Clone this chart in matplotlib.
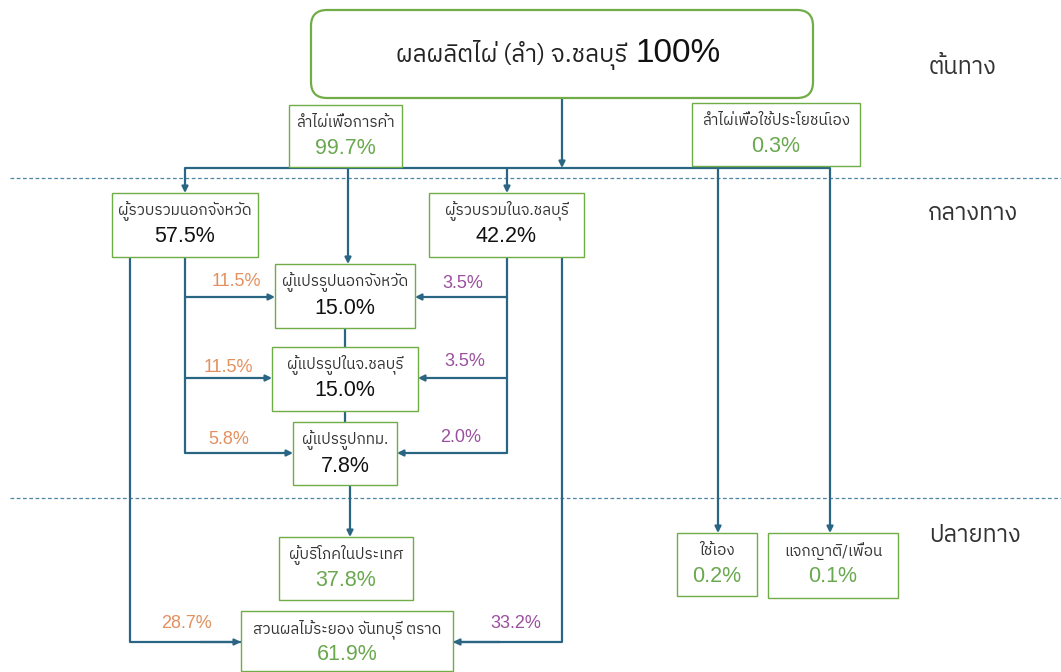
import matplotlib
matplotlib.use('Agg')
import matplotlib.pyplot as plt
from matplotlib import font_manager
from matplotlib.ft2font import FT2Font
from matplotlib.patches import FancyBboxPatch, Rectangle

# ---- data ----
node_names = ['ผลผลิตไผ่ (ลำ) จ.ชลบุรี', 'ลำไผ่เพื่อการค้า', 'ลำไผ่เพื่อใช้ประโยชน์เอง',
              'ผู้รวบรวมนอกจังหวัด', 'ผู้รวบรวมในจ.ชลบุรี',
              'ผู้แปรรูปนอกจังหวัด', 'ผู้แปรรูปในจ.ชลบุรี', 'ผู้แปรรูปกทม.',
              'ผู้บริโภคในประเทศ', 'สวนผลไม้ระยอง จันทบุรี ตราด', 'ใช้เอง', 'แจกญาติ/เพื่อน']
node_pct = [100, 99.7, 0.3, 57.5, 42.2, 15.0, 15.0, 7.8, 37.8, 61.9, 0.2, 0.1]
stage_names = ['ต้นทาง', 'กลางทาง', 'ปลายทาง']
out_prov_flows = [11.5, 11.5, 5.8, 28.7]   # from ผู้รวบรวมนอกจังหวัด
in_prov_flows = [3.5, 3.5, 2.0, 33.2]      # from ผู้รวบรวมในจ.ชลบุรี

# ---- layout (pixels, origin top-left) ----
boxes = [(311, 10, 813, 98), (289, 105, 402, 167), (692, 103, 860, 166),
         (112, 193, 258, 257), (429, 193, 584, 257),
         (275, 264, 415, 328), (272, 347, 418, 411), (293, 422, 397, 485),
         (279, 537, 413, 600), (241, 611, 453, 671), (677, 533, 757, 596), (768, 533, 898, 598)]
pct_green = [False, True, True, False, False, False, False, False, True, True, True, True]
stage_pos = [(963, 68), (973, 214), (975, 536)]

GREEN = '#70ad47'
PCT_GREEN = '#6aa84f'
LINE = '#2a6584'
ORANGE = '#e3905e'
PURPLE = '#9b4f9e'


def has_thai(path):
    try:
        return FT2Font(path).get_char_index(ord('ก')) != 0
    except Exception:
        return False

thai = sorted({f.name for f in font_manager.fontManager.ttflist if has_thai(f.fname)},
              key=lambda n: ('Thai' not in n, n))
TH = thai[:1] + ['DejaVu Sans']
NUM = ['Liberation Sans', 'DejaVu Sans']

fig = plt.figure(figsize=(10.61, 6.72), dpi=100)
ax = fig.add_axes([0, 0, 1, 1])
ax.set_xlim(0, 1061)
ax.set_ylim(672, 0)
ax.axis('off')


def line(xs, ys):
    ax.plot(xs, ys, color=LINE, lw=1.6, solid_capstyle='butt', zorder=1)


def arrow(x0, y0, x1, y1):
    ax.annotate('', xy=(x1, y1), xytext=(x0, y0),
                arrowprops=dict(arrowstyle='-|>', color=LINE, lw=1.6,
                                mutation_scale=9, shrinkA=0, shrinkB=0), zorder=1)


# dashed stage separators
for y in [178, 498]:
    ax.plot([10, 1061], [y, y], color='#4f86a6', lw=0.9, dashes=(3, 2), zorder=0)

# boxes
for i, (x0, y0, x1, y1) in enumerate(boxes):
    if i == 0:
        ax.add_patch(FancyBboxPatch((x0, y0), x1 - x0, y1 - y0,
                                    boxstyle='round,pad=0,rounding_size=16',
                                    fc='white', ec=GREEN, lw=1.6, zorder=2))
        ax.text(627, 62, node_names[0], ha='right', va='baseline', fontsize=17.5,
                family=TH, color='#222222', zorder=3)
        ax.text(635, 62, '%d%%' % node_pct[0], ha='left', va='baseline', fontsize=24,
                family=NUM, color='#111111', zorder=3)
        continue
    ax.add_patch(Rectangle((x0, y0), x1 - x0, y1 - y0, fc='white', ec=GREEN,
                           lw=1.0, zorder=2))
    cx = (x0 + x1) / 2
    ax.text(cx, y0 + 18, node_names[i], ha='center', va='center', fontsize=11,
            family=TH, color='#333333', zorder=3)
    ax.text(cx, y0 + 44, '%.1f%%' % node_pct[i], ha='center', va='center', fontsize=15.5,
            family=NUM, color=PCT_GREEN if pct_green[i] else '#111111', zorder=3)

# stage labels
for name, (x, y) in zip(stage_names, stage_pos):
    ax.text(x, y, name, ha='center', va='center', fontsize=17, family=TH, color='#333333')

# top distribution
arrow(562, 98, 562, 168)
line([185, 830], [168, 168])
arrow(185, 168, 185, 193)
arrow(348, 168, 348, 264)
arrow(507, 168, 507, 193)
arrow(718, 168, 718, 533)
arrow(830, 168, 830, 533)

# processors chain
line([345, 345], [328, 347])
line([345, 345], [411, 422])
arrow(350, 485, 350, 537)

# out-of-province collectors
line([185, 185], [257, 453])
line([130, 130, 241], [257, 642, 642])
arrow(185, 297, 275, 297)
arrow(185, 378, 272, 378)
arrow(185, 453, 293, 453)
arrow(200, 642, 241, 642)
# in-province collectors
line([507, 507], [257, 453])
line([562, 562, 453], [257, 642, 642])
arrow(507, 297, 415, 297)
arrow(507, 378, 418, 378)
arrow(507, 453, 397, 453)
arrow(500, 642, 453, 642)

out_lab = [(236, 281), (228, 367), (229, 439), (186, 623)]
in_lab = [(463, 283), (465, 362), (461, 438), (516, 623)]
for v, (x, y) in zip(out_prov_flows, out_lab):
    ax.text(x, y, '%.1f%%' % v, ha='center', va='center', fontsize=13, family=NUM, color=ORANGE)
for v, (x, y) in zip(in_prov_flows, in_lab):
    ax.text(x, y, '%.1f%%' % v, ha='center', va='center', fontsize=13, family=NUM, color=PURPLE)

fig.savefig('out.png', dpi=100, facecolor='white')
